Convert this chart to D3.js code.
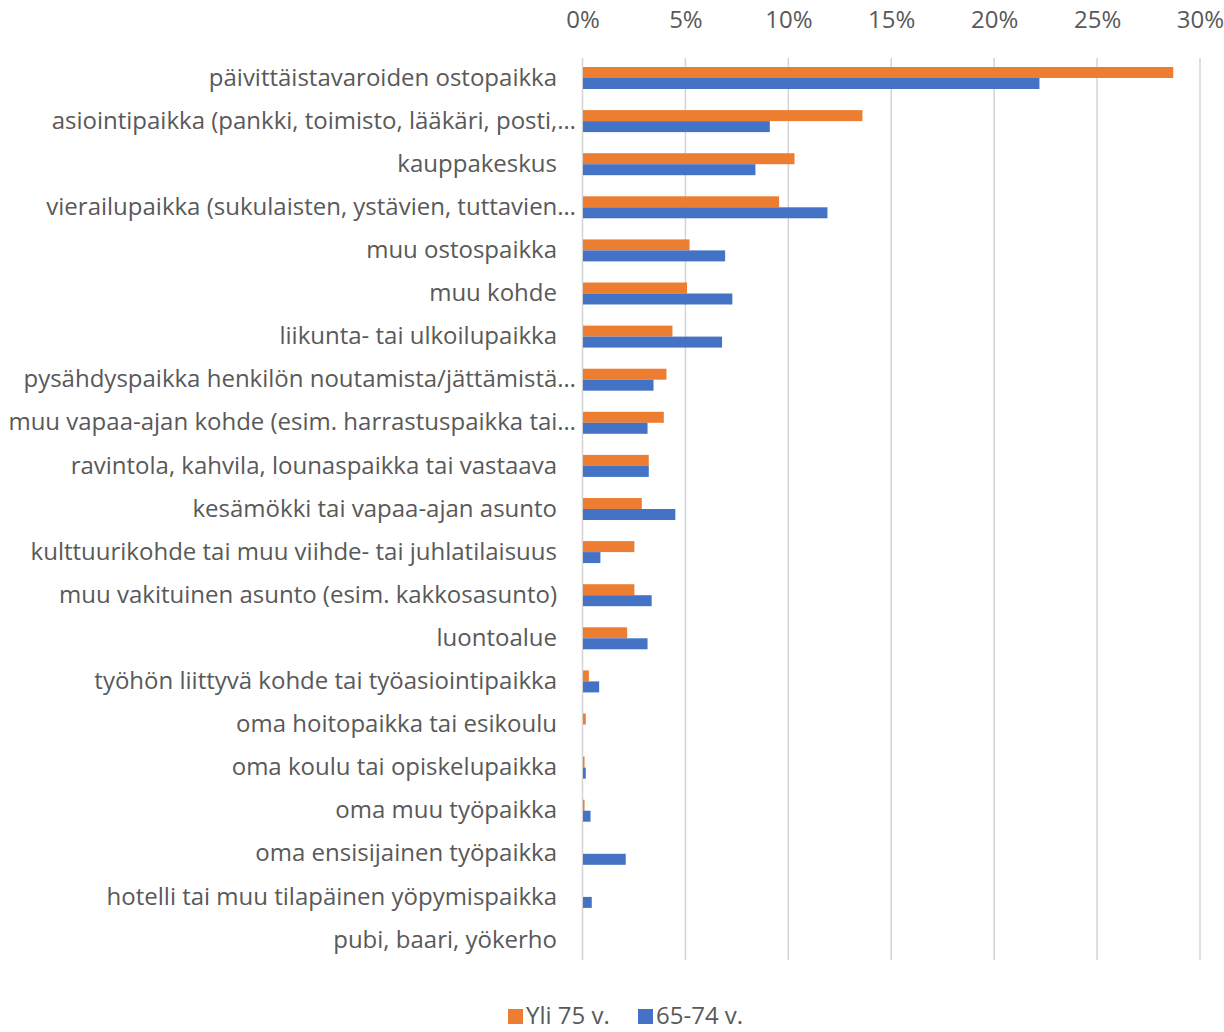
<!DOCTYPE html>
<html><head><meta charset="utf-8">
<script src="https://cdn.jsdelivr.net/npm/d3@7"></script>
<style>body{margin:0;background:#fff}svg{display:block}text{font-family:"Open Sans","Noto Sans",sans-serif;fill:#595959}</style>
</head><body>
<script>
const categories = [
"päivittäistavaroiden ostopaikka",
"asiointipaikka (pankki, toimisto, lääkäri, posti,…",
"kauppakeskus",
"vierailupaikka (sukulaisten, ystävien, tuttavien…",
"muu ostospaikka",
"muu kohde",
"liikunta- tai ulkoilupaikka",
"pysähdyspaikka henkilön noutamista/jättämistä…",
"muu vapaa-ajan kohde (esim. harrastuspaikka tai…",
"ravintola, kahvila, lounaspaikka tai vastaava",
"kesämökki tai vapaa-ajan asunto",
"kulttuurikohde tai muu viihde- tai juhlatilaisuus",
"muu vakituinen asunto (esim. kakkosasunto)",
"luontoalue",
"työhön liittyvä kohde tai työasiointipaikka",
"oma hoitopaikka tai esikoulu",
"oma koulu tai opiskelupaikka",
"oma muu työpaikka",
"oma ensisijainen työpaikka",
"hotelli tai muu tilapäinen yöpymispaikka",
"pubi, baari, yökerho"];
const seriesNames = ["Yli 75 v.", "65-74 v."];
const yli75 = [28.7,13.6,10.3,9.55,5.2,5.08,4.37,4.08,3.95,3.22,2.88,2.52,2.52,2.17,0.31,0.16,0.1,0.1,0,0,0];
const v6574 = [22.2,9.1,8.4,11.9,6.93,7.28,6.78,3.45,3.16,3.22,4.51,0.87,3.36,3.16,0.81,0,0.16,0.39,2.1,0.45,0];
const tickValues = [0,5,10,15,20,25,30];
const colors = ["#ED7D31","#4472C4"];

const W=1224,H=1032;
const FONT='"Open Sans","Noto Sans",sans-serif';
const FS=24;
const svg=d3.select("body").append("svg").attr("width",W).attr("height",H);
const x=d3.scaleLinear().domain([0,30]).range([582.5,1200]);
const y=d3.scaleBand().domain(categories).range([56.45,961.55]).paddingInner(0.49).paddingOuter(0.245);
const sub=d3.scaleBand().domain(seriesNames).range([0,y.bandwidth()]);

// gridlines
svg.append("g").selectAll("line").data(tickValues).join("line")
 .attr("x1",d=>x(d)).attr("x2",d=>x(d)).attr("y1",58).attr("y2",960)
 .attr("stroke","#d4d4d4").attr("stroke-width",1.5);

// top tick labels
const ax=svg.append("g").attr("transform","translate(0,20)")
 .call(d3.axisTop(x).tickValues(tickValues).tickFormat(d=>d+"%").tickSize(0).tickPadding(0));
ax.select(".domain").remove();
ax.selectAll("text").attr("dy","0.35em").attr("font-size",FS).attr("fill","#595959")
 .style("font-family",FONT);

// category labels
const ay=svg.append("g").attr("transform","translate(557,0)")
 .call(d3.axisLeft(y).tickSize(0).tickPadding(0));
ay.select(".domain").remove();
ay.selectAll("text").attr("font-size",FS).attr("fill","#595959")
 .attr("x",d=>d.endsWith("…")?19:0)
 .style("font-family",FONT);

// bars
const series=[yli75,v6574];
series.forEach((vals,si)=>{
 svg.append("g").selectAll("rect").data(categories).join("rect")
  .attr("x",x(0)+0.5)
  .attr("y",(c)=>y(c)+sub(seriesNames[si]))
  .attr("width",(c,i)=>Math.max(0,x(vals[i])-x(0)-0.5))
  .attr("height",sub.bandwidth())
  .attr("fill",colors[si]);
});

// legend
const lg=svg.append("g").attr("transform","translate(0,1024)");
const lx=[508,638];
seriesNames.forEach((n,i)=>{
 lg.append("rect").attr("x",lx[i]).attr("y",-15).attr("width",15).attr("height",15).attr("fill",colors[i]);
 lg.append("text").attr("x",lx[i]+18).attr("y",0).attr("font-size",FS).text(n);
});
</script>
</body></html>
